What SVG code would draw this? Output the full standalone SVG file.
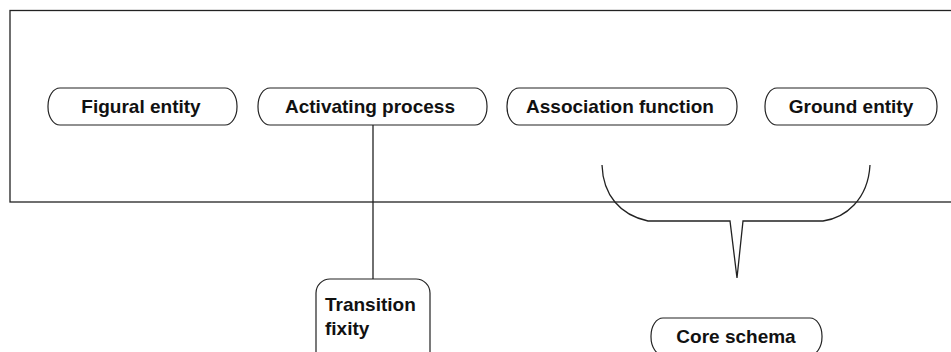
<svg xmlns="http://www.w3.org/2000/svg" width="951" height="352" viewBox="0 0 951 352">
<style>
.frame{fill:none;stroke:#222;stroke-width:1.3}
.node{fill:#fff;stroke:#222;stroke-width:1.2}
.lbl{font-family:"Liberation Sans",Arial,sans-serif;font-weight:bold;font-size:19px;fill:#111}
.conn{fill:none;stroke:#222;stroke-width:1.3}
</style>
<rect x="0" y="0" width="951" height="352" fill="#fff"/>
<rect class="frame" x="10" y="10.5" width="960" height="191.5"/>
<g id="connectors">
<line class="conn" x1="373" y1="125" x2="373" y2="279"/>
<path class="conn" d="M602,165 C603,195 620,215 648,221 L730,221 L737,278 L743,221 L823,221 C845,218 868,200 870,165"/>
</g>
<g id="figural-entity">
<rect class="node" x="48" y="88" width="189" height="37" rx="12" ry="18"/>
<text class="lbl" x="141" y="113" text-anchor="middle">Figural entity</text>
</g>
<g id="activating-process">
<rect class="node" x="258" y="88" width="229" height="37" rx="12" ry="18"/>
<text class="lbl" x="370" y="113" text-anchor="middle">Activating process</text>
</g>
<g id="association-function">
<rect class="node" x="507" y="88" width="230" height="37" rx="12" ry="18"/>
<text class="lbl" x="620" y="113" text-anchor="middle">Association function</text>
</g>
<g id="ground-entity">
<rect class="node" x="765" y="88" width="172" height="37" rx="12" ry="18"/>
<text class="lbl" x="851" y="113" text-anchor="middle">Ground entity</text>
</g>
<g id="transition-fixity">
<rect class="node" x="316" y="279" width="114" height="90" rx="14" ry="14"/>
<text class="lbl" x="325" y="311">Transition</text>
<text class="lbl" x="325" y="335">fixity</text>
</g>
<g id="core-schema">
<rect class="node" x="651" y="318" width="171" height="37" rx="12" ry="18"/>
<text class="lbl" x="736" y="343" text-anchor="middle">Core schema</text>
</g>
</svg>
